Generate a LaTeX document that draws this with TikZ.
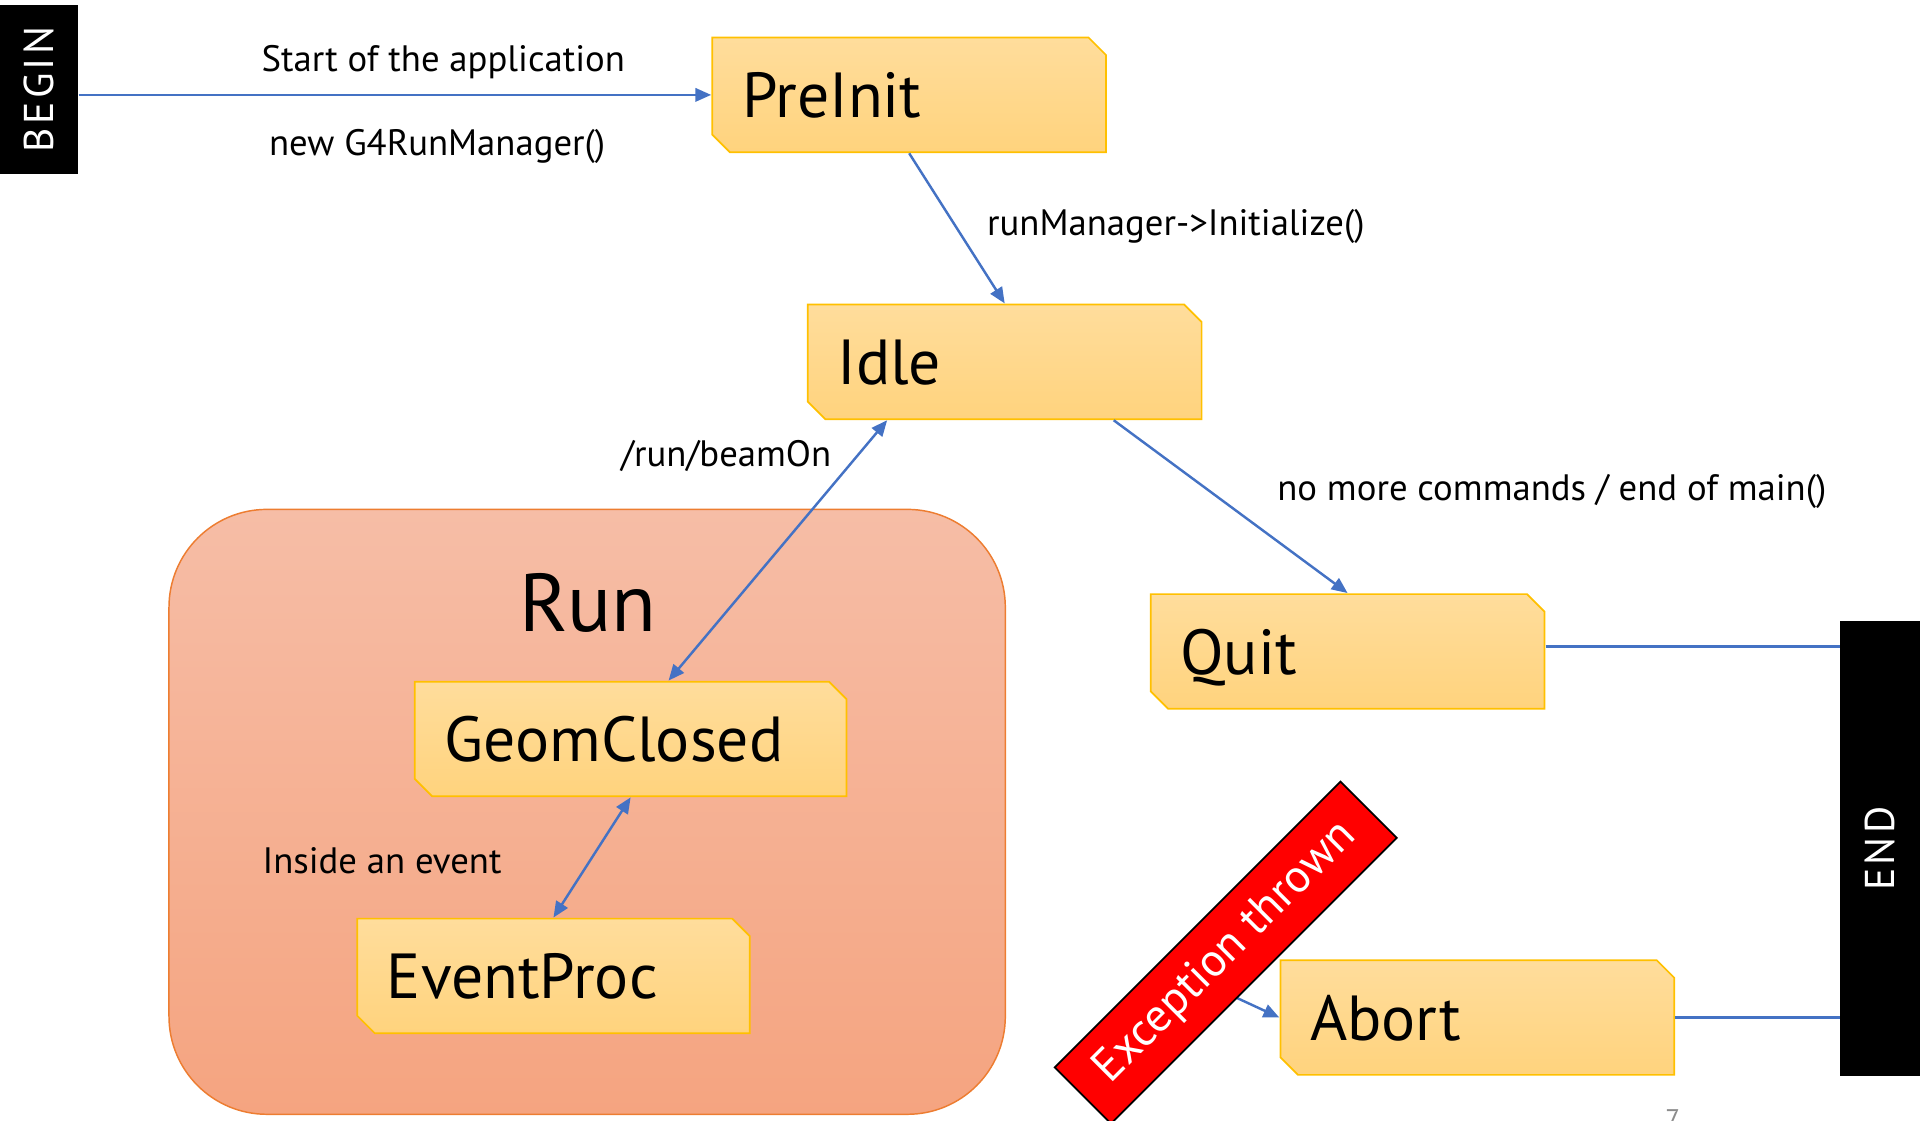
\documentclass[tikz,border=0pt]{standalone}
\usepackage{fontspec}
\setmainfont{PT Sans}
\usetikzlibrary{arrows.meta,calc}
\definecolor{arrowblue}{HTML}{4472C4}
\definecolor{boxtop}{HTML}{FFDD9C}
\definecolor{boxbot}{HTML}{FFD37D}
\definecolor{boxline}{HTML}{FFC000}
\definecolor{runtop}{HTML}{F6BDA6}
\definecolor{runbot}{HTML}{F5A480}
\definecolor{runline}{HTML}{ED7D31}
\definecolor{pagegray}{HTML}{8C8C8C}
\begin{document}
\begin{tikzpicture}[x=1pt,y=-1pt,
  statebox/.style={rectangle, draw=none, minimum height=95pt, text width=#1,
    inner xsep=25pt, inner ysep=0pt, align=left, text height=37pt, text depth=0pt,
    font=\fontsize{52}{60}\selectfont,
    path picture={
      \path[top color=boxtop, bottom color=boxbot, draw=boxline, line width=1.4pt]
        ([xshift=0.7pt,yshift=-0.7pt]path picture bounding box.north west)
        -- ([xshift=-15pt,yshift=-0.7pt]path picture bounding box.north east)
        -- ([xshift=-0.7pt,yshift=-15pt]path picture bounding box.north east)
        -- ([xshift=-0.7pt,yshift=0.7pt]path picture bounding box.south east)
        -- ([xshift=15pt,yshift=0.7pt]path picture bounding box.south west)
        -- ([xshift=0.7pt,yshift=15pt]path picture bounding box.south west)
        -- cycle;
    }},
  blackbar/.style={rectangle, fill=black, text=white, rotate=90, inner sep=0pt,
    font=\fontsize{34}{40}\selectfont\addfontfeature{LetterSpace=8}},
  lbl/.style={font=\fontsize{30}{35}\selectfont, inner sep=0pt},
  conn/.style={draw=arrowblue, line width=2pt, -{Triangle[length=13pt,width=11pt]}},
  dconn/.style={draw=arrowblue, line width=2pt, {Triangle[length=13pt,width=11pt]}-{Triangle[length=13pt,width=11pt]}},
  plain/.style={draw=arrowblue, line width=2pt}
]
\clip (0,0) rectangle (1568,915);

% Run container
\node[rectangle, rounded corners=80pt, minimum width=683pt, minimum height=494pt,
  top color=runtop, bottom color=runbot, draw=runline, line width=1.2pt] (run) at (479.5,663) {};
\node[font=\fontsize{67}{75}\selectfont, inner sep=0pt] (runlabel) at (480,492) {Run};

% black bars
\node[blackbar, minimum width=138pt, minimum height=64pt] (begin) at (32,73) {BEGIN};
\node[blackbar, minimum width=372pt, minimum height=65pt] (end) at (1535.5,693) {END};

% states
\node[statebox=273pt] (pre) at (742.5,77.5) {PreInit};
\node[statebox=273pt] (idle) at (820.5,295.5) {Idle};
\node[statebox=273pt] (quit) at (1100.5,532) {Quit};
\node[statebox=304pt] (geom) at (515,603.5) {GeomClosed};
\node[statebox=272pt] (event) at (452,797) {EventProc};
\node[statebox=273pt] (abort) at (1206.5,831) {Abort};

% labels
\node[lbl] (startlbl) at (362,51) {Start of the application};
\node[lbl] (newlbl) at (357,120) {new G4RunManager()};
\node[lbl, anchor=west] (initlbl) at (806,185) {runManager->Initialize()};
\node[lbl, anchor=west] (quitlbl) at (1043,401) {no more commands / end of main()};
\node[lbl] (beamlbl) at (593,372) {/run/beamOn};
\node[lbl] (insidelbl) at (312,703) {Inside an event};

% connectors
\draw[conn] (begin.south |- pre.west) -- (pre.west);
\draw[conn] (pre.south) -- (idle.north);
\draw[conn] ([xshift=89pt]idle.south) -- (quit.north);
\draw[dconn] ([xshift=-96pt]idle.south) -- ([xshift=31pt]geom.north);
\draw[dconn] (geom.south) -- (event.north);
\draw[plain] ([yshift=4pt]quit.east) -- ([yshift=4pt]quit.east -| end.north);
\draw[plain] (abort.east) -- (abort.east -| end.north);
\coordinate (excout) at (1008,814);
\draw[conn] (excout) -- (abort.west);

% exception banner
\node[rectangle, rotate=45, minimum width=330pt, minimum height=65pt, fill=red, draw=black,
  line width=1.5pt, text=white, inner sep=0pt, font=\fontsize{38}{44}\selectfont] (exc) at (1001,778) {Exception thrown};

% page number
\node[text=pagegray, font=\fontsize{22}{26}\selectfont, inner sep=0pt] (pagenum) at (1366,914) {7};
\end{tikzpicture}
\end{document}
